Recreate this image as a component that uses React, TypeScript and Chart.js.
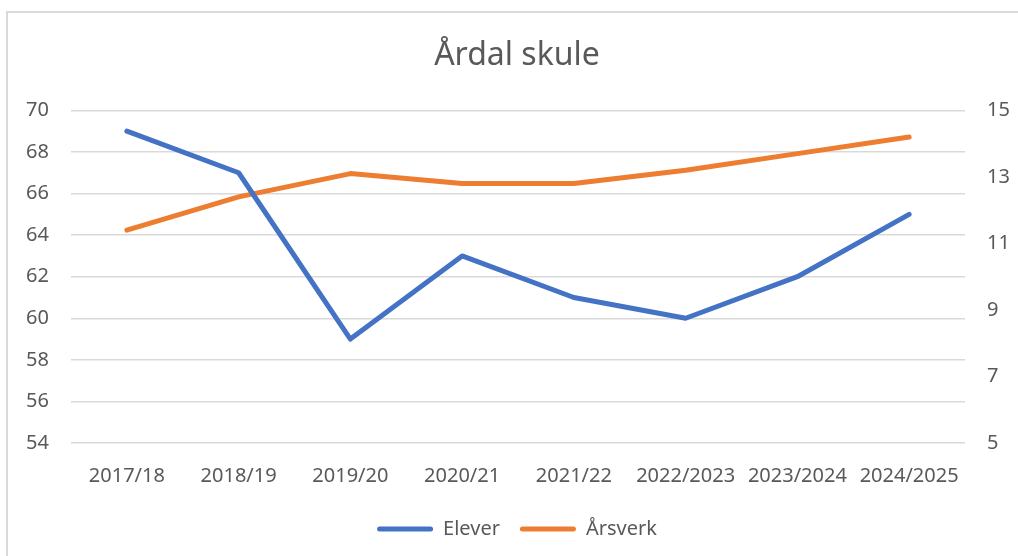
import React, { useEffect, useRef } from "react";
import { Chart, registerables } from "chart.js";

Chart.register(...registerables);

const categories = ["2017/18", "2018/19", "2019/20", "2020/21", "2021/22", "2022/2023", "2023/2024", "2024/2025"];
const elever = [69, 67, 59, 63, 61, 60, 62, 65];
const arsverk = [11.4, 12.4, 13.1, 12.8, 12.8, 13.2, 13.7, 14.2];
const titleText = "Årdal skule";

const FONT = "'Noto Sans', 'Open Sans', sans-serif";
const TEXT = "#595959";
const GRID = "#d9d9d9";

const borderPlugin = {
  id: "outerBorder",
  beforeDraw(chart: any) {
    const ctx = chart.ctx;
    ctx.save();
    ctx.fillStyle = "#ffffff";
    ctx.fillRect(0, 0, chart.width, chart.height);
    ctx.strokeStyle = GRID;
    ctx.lineWidth = 2;
    ctx.beginPath();
    ctx.moveTo(7, chart.height);
    ctx.lineTo(7, 12);
    ctx.lineTo(chart.width, 12);
    ctx.stroke();
    ctx.restore();
  },
};

export default function App() {
  const ref = useRef<HTMLCanvasElement | null>(null);
  useEffect(() => {
    document.body.style.margin = "0";
    const canvas = ref.current!;
    const chart = new Chart(canvas, {
      type: "line",
      data: {
        labels: categories,
        datasets: [
          {
            label: "Elever",
            data: elever,
            borderColor: "#4472C4",
            backgroundColor: "#4472C4",
            borderWidth: 5,
            pointRadius: 0,
            tension: 0,
            borderCapStyle: "round",
            borderJoinStyle: "round",
            yAxisID: "y",
          },
          {
            label: "Årsverk",
            data: arsverk,
            borderColor: "#ED7D31",
            backgroundColor: "#ED7D31",
            borderWidth: 5,
            pointRadius: 0,
            tension: 0,
            borderCapStyle: "round",
            borderJoinStyle: "round",
            yAxisID: "y1",
          },
        ],
      },
      options: {
        responsive: false,
        animation: false,
        layout: { padding: { top: 0, bottom: 7, left: 16, right: 0 } },
        plugins: {
          title: {
            display: true,
            text: titleText,
            color: TEXT,
            font: { family: FONT, size: 32, weight: "normal" },
            padding: { top: 37, bottom: 35 },
          },
          legend: {
            position: "bottom",
            labels: {
              color: TEXT,
              font: { family: FONT, size: 20 },
              boxWidth: 56,
              boxHeight: 5,
              padding: 20,
              generateLabels(chart: any) {
                return chart.data.datasets.map((ds: any, i: number) => ({
                  text: ds.label,
                  fillStyle: ds.borderColor,
                  strokeStyle: ds.borderColor,
                  lineWidth: 0,
                  borderRadius: 2.5,
                  fontColor: TEXT,
                  hidden: false,
                  datasetIndex: i,
                }));
              },
            },
          },
          tooltip: { enabled: false },
        },
        scales: {
          x: {
            offset: true,
            grid: { display: false },
            border: { display: false },
            ticks: {
              color: TEXT,
              font: { family: FONT, size: 20 },
              padding: 13,
              maxRotation: 0,
              autoSkip: false,
            },
            afterFit(axis: any) {
              axis.height = 56;
            },
          },
          y: {
            position: "left",
            min: 54,
            max: 70,
            ticks: {
              stepSize: 2,
              color: TEXT,
              font: { family: FONT, size: 20 },
              padding: 22,
            },
            grid: { color: GRID, lineWidth: 1.5, drawTicks: false },
            border: { display: false },
            afterFit(axis: any) {
              axis.width = 55;
            },
          },
          y1: {
            position: "right",
            min: 5,
            max: 15,
            ticks: {
              stepSize: 2,
              color: TEXT,
              font: { family: FONT, size: 20 },
              padding: 22,
            },
            grid: { display: false, drawTicks: false },
            border: { display: false },
            afterFit(axis: any) {
              axis.width = 53;
            },
          },
        },
      },
      plugins: [borderPlugin],
    } as any);
    return () => chart.destroy();
  }, []);
  return (
    <canvas ref={ref} width={1018} height={556} style={{ display: "block", width: 1018, height: 556 }} />
  );
}
